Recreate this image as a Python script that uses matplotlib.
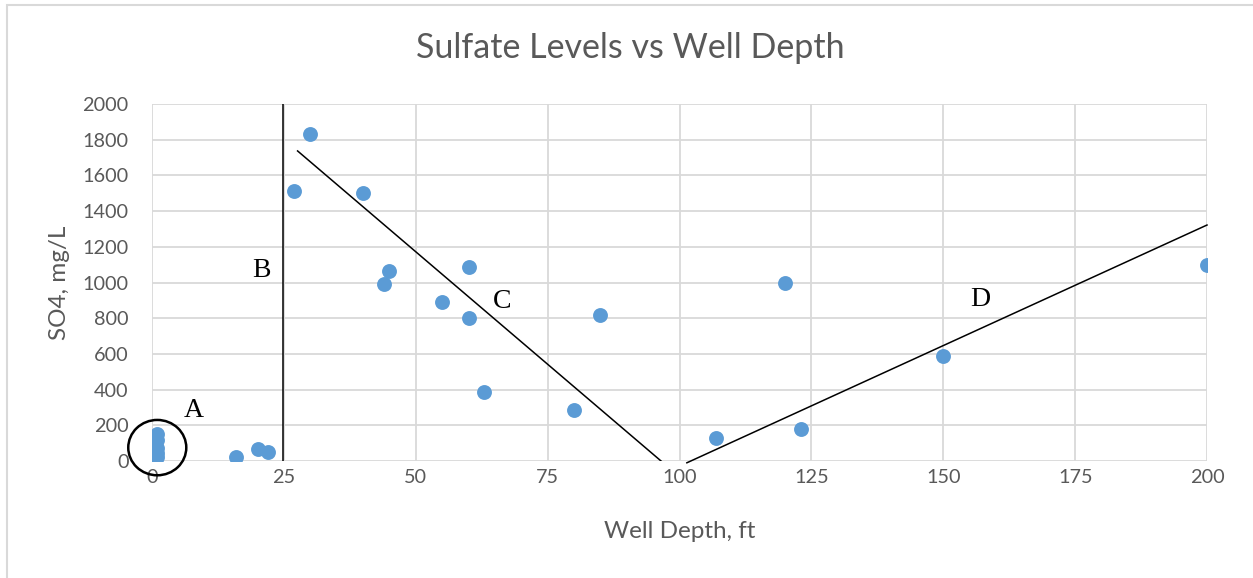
import matplotlib.pyplot as plt
from matplotlib.patches import Ellipse, Rectangle

# depth (ft) and sulfate (mg/L)
depth = [1, 1, 1, 1, 1, 16, 20, 22, 27, 30, 40, 44, 45, 55, 60, 60, 63,
         80, 85, 107, 120, 123, 150, 200]
sulfate = [150, 115, 75, 45, 20, 25, 65, 50, 1510, 1830, 1500, 990, 1065,
           890, 1085, 800, 385, 285, 820, 130, 1000, 180, 590, 1100]

# hand drawn trend lines
line_b_x = [24.8, 24.8]
line_b_y = [0, 2000]
line_c_x = [27.6, 96.5]
line_c_y = [1737, 0]
line_d_x = [101.4, 200]
line_d_y = [-10, 1322]

x_ticks = [0, 25, 50, 75, 100, 125, 150, 175, 200]
y_ticks = list(range(0, 2001, 200))

plt.rcParams['font.family'] = ['Lato', 'DejaVu Sans']
grey_txt = "#595959"

fig = plt.figure(figsize=(12.53, 5.78), dpi=100)
fig.patches.append(Rectangle((7 / 1253, -0.1), 1.2, 1 - 5 / 578 + 0.1,
                             transform=fig.transFigure, fill=False,
                             edgecolor="#D9D9D9", linewidth=1.5))
ax = fig.add_axes([152 / 1253, 1 - 461 / 578, 1055 / 1253, 357 / 578])

ax.scatter(depth, sulfate, s=115, color="#5B9BD5", zorder=3, linewidths=0)
ax.plot(line_b_x, line_b_y, color="black", lw=1.1, zorder=4)
ax.plot(line_c_x, line_c_y, color="black", lw=1.1, zorder=4)
ax.plot(line_d_x, line_d_y, color="black", lw=1.1, zorder=4, clip_on=False)
ax.add_patch(Ellipse((1, 75), 11, 310, fill=False, edgecolor="black",
                     lw=1.8, clip_on=False, zorder=5))

for lbl, x, y in [("A", 7.9, 285), ("B", 20.8, 1065), ("C", 66.3, 895), ("D", 157, 905)]:
    ax.text(x, y, lbl, fontsize=20, family="Liberation Serif",
            ha="center", va="center", color="black")

ax.set_xlim(0, 200)
ax.set_ylim(0, 2000)
ax.set_xticks(x_ticks)
ax.set_yticks(y_ticks)
ax.grid(True, color="#D9D9D9", lw=1.3)
ax.set_axisbelow(True)
for sp in ax.spines.values():
    sp.set_visible(False)
ax.tick_params(length=0, labelsize=14.3, colors=grey_txt)
ax.tick_params(axis="x", pad=6)
ax.tick_params(axis="y", pad=17)

ax.set_xlabel("Well Depth, ft", fontsize=17.5, color=grey_txt)
ax.set_ylabel("SO4, mg/L", fontsize=17.5, color=grey_txt)
ax.xaxis.set_label_coords(0.5 + (680 - 679.5) / 1055, (461 - 532) / 357)
ax.yaxis.set_label_coords((60 - 152) / 1055, 0.5)
ax.xaxis.label.set_va("center")
ax.yaxis.label.set_va("center")
fig.text(0.503, 1 - 48 / 578, "Sulfate Levels vs Well Depth", fontsize=24.5,
         color=grey_txt, ha="center", va="center")

fig.savefig("out.png", dpi=100)
